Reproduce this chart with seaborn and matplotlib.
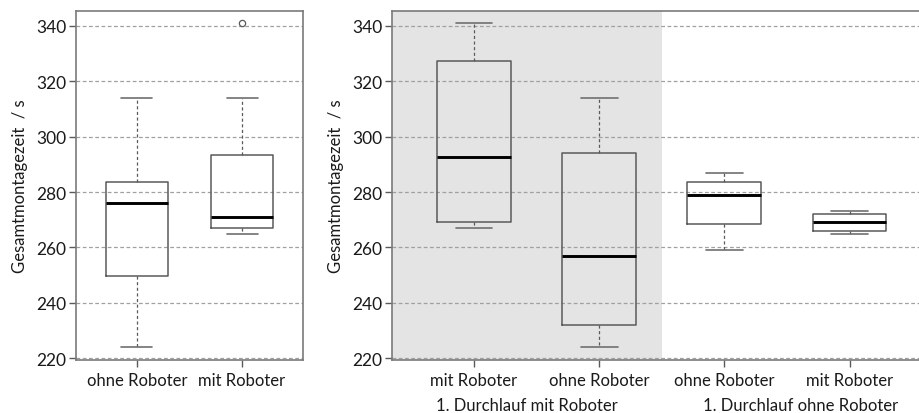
import numpy as np
import pandas as pd
import matplotlib
matplotlib.use("Agg")
import matplotlib.pyplot as plt
import seaborn as sns

# Box statistics (whisker low, Q1, median, Q3, whisker high, outlier)
left_labels = ["ohne Roboter", "mit Roboter"]
left_lo = [224, 265]
left_q1 = [249.5, 267]
left_med = [276, 271]
left_q3 = [283.5, 293.5]
left_hi = [314, 314]
left_out = [None, 341]

right_labels = ["mit Roboter", "ohne Roboter", "ohne Roboter", "mit Roboter"]
right_lo = [267, 224, 259, 265]
right_q1 = [269, 232, 268.5, 266]
right_med = [292.5, 257, 279, 269]
right_q3 = [327.5, 294, 283.5, 272]
right_hi = [341, 314, 287, 273]
right_out = [None, None, None, None]

group_labels = ["1. Durchlauf mit Roboter", "1. Durchlauf ohne Roboter"]
yticks = [220, 240, 260, 280, 300, 320, 340]


def make_frame(lo, q1, med, q3, hi, out):
    # 9 values per box so that the linear quartiles land exactly on the read stats
    rows = []
    for i in range(len(lo)):
        last = out[i] if out[i] is not None else hi[i]
        vals = [lo[i], q1[i], q1[i], med[i], med[i], q3[i], q3[i], hi[i], last]
        rows += [{"box": f"b{i}", "zeit": v} for v in vals]
    return pd.DataFrame(rows)


df_left = make_frame(left_lo, left_q1, left_med, left_q3, left_hi, left_out)
df_right = make_frame(right_lo, right_q1, right_med, right_q3, right_hi, right_out)

sns.set_style("white")
plt.rcParams["font.family"] = ["Lato", "DejaVu Sans"]

edge = "#5a5a5a"
fig = plt.figure(figsize=(9.2, 4.14), dpi=100)
ax1 = fig.add_axes([76 / 920, 1 - 361 / 414, 227 / 920, 349 / 414])
ax2 = fig.add_axes([392 / 920, 1 - 361 / 414, 527 / 920, 349 / 414])

box_kw = dict(
    x="box", y="zeit", width=0.59, fill=False, color=edge, linewidth=1.1,
    medianprops=dict(color="black", linewidth=2.1),
    whiskerprops=dict(linestyle=(0, (2.5, 2)), linewidth=0.9, color=edge),
    capprops=dict(linewidth=1.2, color="#707070"),
    flierprops=dict(marker="o", markersize=4.5, markerfacecolor="white",
                    markeredgecolor=edge, markeredgewidth=0.9),
)

ylo, yhi = 219.3, 345.4

for ax, df, labels, xl in [
    (ax1, df_left, left_labels, (-0.58, 1.58)),
    (ax2, df_right, right_labels, (-0.655, 3.555)),
]:
    if ax is ax2:
        ax.axvspan(xl[0], 1.5, color="#e4e4e4", lw=0, zorder=0)
    for t in yticks:
        ax.axhline(t, color="#a0a0a0", lw=0.9, ls=(0, (3, 2)), zorder=0.5)
    sns.boxplot(data=df, ax=ax, **box_kw)
    ax.set_xlim(*xl)
    ax.set_ylim(ylo, yhi)
    ax.set_yticks(yticks)
    ax.set_xticks(range(len(labels)))
    ax.set_xticklabels(labels, fontsize=12)
    ax.tick_params(axis="y", labelsize=12.5, length=5, width=1, color=edge,
                   left=True, pad=2, labelcolor="#1a1a1a")
    ax.tick_params(axis="x", length=5, width=1, color=edge, bottom=True,
                   pad=4, labelcolor="#1a1a1a")
    ax.set_xlabel("")
    ax.set_ylabel("Gesamtmontagezeit  / s", fontsize=12, color="#1a1a1a", labelpad=6)
    for s in ax.spines.values():
        s.set_color("#7a7a7a")
        s.set_linewidth(1.2)

ax2.spines["right"].set_visible(False)

ax2.text(0.42, -0.13, group_labels[0], transform=ax2.get_xaxis_transform(),
         ha="center", va="center", fontsize=12, color="#1a1a1a")
ax2.text(2.61, -0.13, group_labels[1], transform=ax2.get_xaxis_transform(),
         ha="center", va="center", fontsize=12, color="#1a1a1a")

fig.savefig("out.png", dpi=100)
plt.close(fig)
